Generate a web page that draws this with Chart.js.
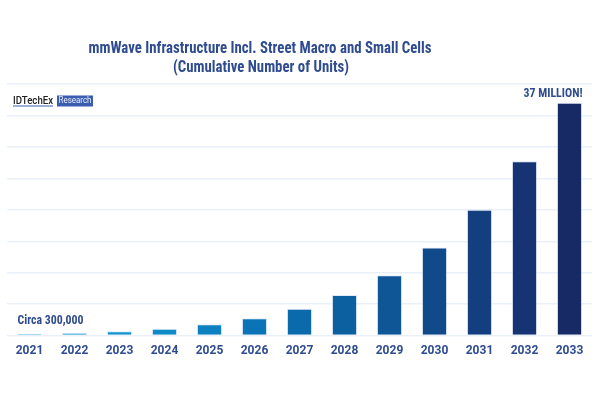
<!DOCTYPE html>
<html>
<head>
<meta charset="utf-8">
<script src="https://cdn.jsdelivr.net/npm/chart.js@4"></script>
<style>
html,body{margin:0;padding:0;background:#fff;}
#wrap{width:600px;height:400px;}
</style>
</head>
<body>
<div id="wrap"><canvas id="c" width="600" height="400"></canvas></div>
<script>
const categories = ["2021","2022","2023","2024","2025","2026","2027","2028","2029","2030","2031","2032","2033"];
const unitsMillions = [0.3, 0.45, 0.7, 1.1, 1.8, 2.75, 4.25, 6.45, 9.6, 14.0, 20.0, 27.7, 37.0];
const yTicks = [0, 5, 10, 15, 20, 25, 30, 35, 40];
const titleLines = ["mmWave Infrastructure Incl. Street Macro and Small Cells", "(Cumulative Number of Units)"];
const firstNote = "Circa 300,000";
const lastNote = "37 MILLION!";

const barColors = ["#1aa0dc","#1599d6","#1192cf","#0e8ac8","#0c80c0","#0b74b6","#0b6aab","#0c60a0","#0e5696","#114a8a","#133f80","#163474","#182a66"];
const textBlue = "#2f4c90";
const condensed = '"Roboto Condensed", "Liberation Sans Narrow", Roboto, sans-serif';

function fitText(ctx, text, x, y, font, targetW, align) {
  ctx.save();
  ctx.font = font;
  const w = ctx.measureText(text).width;
  const s = targetW ? targetW / w : 1;
  ctx.translate(x, y);
  ctx.scale(s, 1);
  ctx.textAlign = align || 'center';
  ctx.textBaseline = 'middle';
  ctx.fillText(text, 0, 0);
  ctx.restore();
}

const decor = {
  id: 'decor',
  afterDraw(chart) {
    const ctx = chart.ctx;
    const xs = chart.scales.x, ys = chart.scales.y;
    ctx.save();
    ctx.fillStyle = textBlue;
    fitText(ctx, titleLines[0], 260, 48.5, 'bold 17px ' + condensed, 343, 'center');
    fitText(ctx, titleLines[1], 261, 67.5, 'bold 17px ' + condensed, 176, 'center');
    // logo
    ctx.fillStyle = '#222';
    fitText(ctx, 'IDTechEx', 13, 101, '500 11px Roboto, sans-serif', 40, 'left');
    ctx.fillStyle = '#3a63b8';
    ctx.fillRect(13, 105.5, 40, 1);
    ctx.fillStyle = '#3a5db0';
    ctx.fillRect(57, 95.5, 36, 11);
    ctx.fillStyle = '#e8eefc';
    fitText(ctx, 'Research', 75, 101.2, '9px Roboto, sans-serif', 33, 'center');
    // annotations tied to bars
    ctx.fillStyle = textBlue;
    const x0 = xs.getPixelForValue(0) - 12;
    const y0 = ys.getPixelForValue(unitsMillions[0]);
    fitText(ctx, firstNote, x0, y0 - 13, 'bold 13px ' + condensed, 66, 'left');
    const xl = xs.getPixelForValue(categories.length - 1) + 13;
    const yl = ys.getPixelForValue(unitsMillions[unitsMillions.length - 1]);
    fitText(ctx, lastNote, xl, yl - 9.5, 'bold 13px ' + condensed, 59, 'right');
    ctx.restore();
  }
};

new Chart(document.getElementById('c'), {
  type: 'bar',
  data: {
    labels: categories,
    datasets: [{
      data: unitsMillions,
      backgroundColor: barColors,
      borderColor: 'rgba(200,215,240,0.55)',
      borderWidth: 1,
      barPercentage: 0.56,
      categoryPercentage: 1.0
    }]
  },
  options: {
    responsive: false,
    animation: false,
    devicePixelRatio: 1,
    layout: { padding: { top: 84, left: 7, right: 8, bottom: 34 } },
    plugins: { legend: { display: false }, title: { display: false }, tooltip: { enabled: false } },
    scales: {
      x: {
        grid: { display: false, drawTicks: false },
        border: { display: false },
        ticks: { color: textBlue, font: { family: 'Roboto', weight: 'bold', size: 12 }, padding: 8, maxRotation: 0 }
      },
      y: {
        min: 0, max: 40,
        afterBuildTicks(axis) { axis.ticks = yTicks.map(v => ({ value: v })); },
        grid: { color: '#e9f0f8', lineWidth: 1.5, drawTicks: false },
        border: { display: false },
        ticks: { display: false }
      }
    }
  },
  plugins: [decor]
});
</script>
</body>
</html>
